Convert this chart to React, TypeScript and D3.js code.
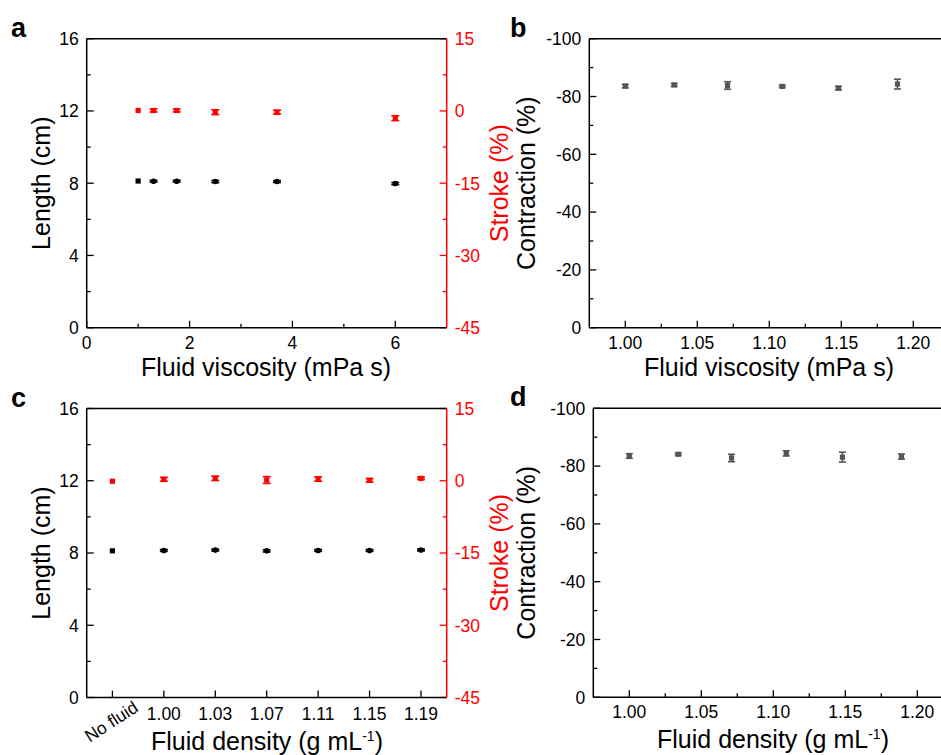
import * as d3 from 'd3';

// ── Data ───────────────────────────────────────────────────────────────
const viscosity = [1.0, 1.3, 1.75, 2.5, 3.7, 6.0];
const viscLength = [8.12, 8.11, 8.11, 8.09, 8.09, 7.98];
const viscLengthErr = [0, 0.05, 0.05, 0.06, 0.05, 0.06];
const viscStroke = [0.1, 0.1, 0.1, -0.25, -0.25, -1.5];
const viscStrokeErr = [0, 0.3, 0.3, 0.5, 0.4, 0.5];

const densityLabels = ['No fluid', '1.00', '1.03', '1.07', '1.11', '1.15', '1.19'];
const densityLength = [8.12, 8.14, 8.16, 8.12, 8.14, 8.14, 8.17];
const densityLengthErr = [0, 0.05, 0.05, 0.06, 0.05, 0.05, 0.05];
const densityStroke = [-0.1, 0.3, 0.5, 0.15, 0.35, 0.1, 0.5];
const densityStrokeErr = [0, 0.4, 0.45, 0.7, 0.45, 0.35, 0.25];

const contractX = [1.0, 1.034, 1.071, 1.109, 1.148, 1.189];
const contractVisc = [-83.6, -84.0, -83.8, -83.5, -82.9, -84.3];
const contractViscErr = [0.6, 0.5, 1.3, 0.4, 0.6, 1.7];
const contractDens = [-83.5, -84.1, -82.8, -84.4, -83.1, -83.3];
const contractDensErr = [0.8, 0.4, 1.3, 0.9, 1.7, 0.9];

const lengthTicks = [0, 4, 8, 12, 16];
const lengthMinor = [2, 6, 10, 14];
const strokeTicks = [-45, -30, -15, 0, 15];
const strokeMinor = [-37.5, -22.5, -7.5, 7.5];
const viscTicks = [0, 2, 4, 6];
const viscMinor = [1, 3, 5];
const contractTicks = [0, -20, -40, -60, -80, -100];
const contractMinor = [-10, -30, -50, -70, -90];
const densTicks = [1.0, 1.05, 1.1, 1.15, 1.2];
const densMinor = [1.025, 1.075, 1.125, 1.175, 1.225];

const FONT = 'Liberation Sans, Arial, sans-serif';
const RED = '#ff0000';
const GRAY = '#555555';
const TICK_FS = 17.5;
const TITLE_FS = 25;

const yTicksLeft = (y, major, minor, x0, fmt = d => String(d)) => (
  <g>
    {major.map(t => (
      <g key={'m' + t}>
        <line x1={x0} x2={x0 + 7} y1={y(t)} y2={y(t)} stroke="#000" strokeWidth={1.3} />
        <text x={x0 - 8} y={y(t)} dy="0.36em" textAnchor="end" fontSize={TICK_FS}>{fmt(t)}</text>
      </g>
    ))}
    {minor.map(t => (
      <line key={'n' + t} x1={x0} x2={x0 + 4} y1={y(t)} y2={y(t)} stroke="#000" strokeWidth={1.3} />
    ))}
  </g>
);

const yTicksRight = (y, major, minor, x0) => (
  <g fill={RED}>
    {major.map(t => (
      <g key={'m' + t}>
        <line x1={x0 - 7} x2={x0} y1={y(t)} y2={y(t)} stroke={RED} strokeWidth={1.3} />
        <text x={x0 + 8} y={y(t)} dy="0.36em" textAnchor="start" fontSize={TICK_FS}>{t}</text>
      </g>
    ))}
    {minor.map(t => (
      <line key={'n' + t} x1={x0 - 4} x2={x0} y1={y(t)} y2={y(t)} stroke={RED} strokeWidth={1.3} />
    ))}
  </g>
);

const xTicksBottom = (x, major, minor, y0, fmt = d => String(d)) => (
  <g>
    {major.map(t => (
      <g key={'m' + t}>
        <line x1={x(t)} x2={x(t)} y1={y0} y2={y0 - 7} stroke="#000" strokeWidth={1.3} />
        <text x={x(t)} y={y0 + 21} textAnchor="middle" fontSize={TICK_FS}>{fmt(t)}</text>
      </g>
    ))}
    {minor.map(t => (
      <line key={'n' + t} x1={x(t)} x2={x(t)} y1={y0} y2={y0 - 4} stroke="#000" strokeWidth={1.3} />
    ))}
  </g>
);

const errPoint = (key, cx, cy, yLo, yHi, color, cap, shape) => (
  <g key={key}>
    {yHi !== yLo && (
      <g stroke={color} strokeWidth={1.6}>
        <line x1={cx} x2={cx} y1={yLo} y2={yHi} />
        <line x1={cx - cap / 2} x2={cx + cap / 2} y1={yLo} y2={yLo} />
        <line x1={cx - cap / 2} x2={cx + cap / 2} y1={yHi} y2={yHi} />
      </g>
    )}
    {shape === 'circle' ? (
      <circle cx={cx} cy={cy} r={2.8} fill={color} />
    ) : (
      <rect x={cx - 2.6} y={cy - 2.6} width={5.2} height={5.2} fill={color} />
    )}
  </g>
);

// Length + Stroke panel (a, c)
const DualPanel = ({ top, letter, xScale, xs, length, lengthErr, stroke, strokeErr, xAxis, title }) => {
  const left = 86.7;
  const right = 446.7;
  const bottom = top + 289;
  const yL = d3.scaleLinear().domain([0, 16]).range([bottom, top]);
  const yS = d3.scaleLinear().domain([-45, 15]).range([bottom, top]);
  const midY = (top + bottom) / 2;
  return (
    <g>
      <text x={11} y={top - 2} fontSize={27} fontWeight="bold">{letter}</text>
      {xAxis(bottom)}
      {yTicksLeft(yL, lengthTicks, lengthMinor, left)}
      {yTicksRight(yS, strokeTicks, strokeMinor, right)}
      <line x1={left} x2={right} y1={top} y2={top} stroke="#000" strokeWidth={1.5} />
      <line x1={left} x2={right} y1={bottom} y2={bottom} stroke="#000" strokeWidth={1.5} />
      <line x1={left} x2={left} y1={top} y2={bottom} stroke="#000" strokeWidth={1.5} />
      <line x1={right} x2={right} y1={top} y2={bottom} stroke={RED} strokeWidth={1.5} />
      {xs.map((v, i) =>
        errPoint('s' + i, xScale(v), yS(stroke[i]), yS(stroke[i] - strokeErr[i]), yS(stroke[i] + strokeErr[i]), RED, 8, 'square')
      )}
      {xs.map((v, i) =>
        errPoint('l' + i, xScale(v), yL(length[i]), yL(length[i] - lengthErr[i]), yL(length[i] + lengthErr[i]), '#000', 8, i === 0 ? 'square' : 'circle')
      )}
      <text transform={`translate(50,${midY}) rotate(-90)`} textAnchor="middle" fontSize={TITLE_FS}>Length (cm)</text>
      <text transform={`translate(508,${midY}) rotate(-90)`} textAnchor="middle" fontSize={TITLE_FS} fill={RED}>Stroke (%)</text>
      {title(bottom)}
    </g>
  );
};

// Contraction panel (b, d)
const ContractPanel = ({ top, left, letter, values, errs, title }) => {
  const bottom = top + 289;
  const x = d3.scaleLinear().domain([0.975, 1.225]).range([left, left + 360]);
  const y = d3.scaleLinear().domain([0, -100]).range([bottom, top]);
  const midY = (top + bottom) / 2;
  return (
    <g>
      <text x={510} y={top - 2} fontSize={27} fontWeight="bold">{letter}</text>
      {xTicksBottom(x, densTicks, densMinor, bottom, d => d3.format('.2f')(d))}
      {yTicksLeft(y, contractTicks, contractMinor, left)}
      <line x1={left} x2={left + 360} y1={top} y2={top} stroke="#000" strokeWidth={1.5} />
      <line x1={left} x2={left + 360} y1={bottom} y2={bottom} stroke="#000" strokeWidth={1.5} />
      <line x1={left} x2={left} y1={top} y2={bottom} stroke="#000" strokeWidth={1.5} />
      {contractX.map((v, i) => errPoint('c' + i, x(v), y(values[i]), y(values[i] - errs[i]), y(values[i] + errs[i]), GRAY, 7, 'square'))}
      <text transform={`translate(535,${midY}) rotate(-90)`} textAnchor="middle" fontSize={TITLE_FS}>Contraction (%)</text>
      {title}
    </g>
  );
};

const DensityTitle = ({ x, y }) => (
  <text x={x} y={y} textAnchor="middle" fontSize={TITLE_FS}>
    Fluid density (g mL<tspan dy={-9} fontSize={14}>-1</tspan><tspan dy={9}>)</tspan>
  </text>
);

export default function App() {
  const xVisc = d3.scaleLinear().domain([0, 7]).range([86.7, 446.7]);
  const xDens = d3.scaleLinear().domain([0, 7]).range([86.7, 446.7]);
  const densPos = densityLabels.map((_, i) => i + 0.5);

  return (
    <svg width={941} height={755} style={{ position: 'absolute', left: 0, top: 0, background: '#fff' }} fontFamily={FONT}>
      <DualPanel
        top={38.7}
        letter="a"
        xScale={xVisc}
        xs={viscosity}
        length={viscLength}
        lengthErr={viscLengthErr}
        stroke={viscStroke}
        strokeErr={viscStrokeErr}
        xAxis={b => xTicksBottom(xVisc, viscTicks, viscMinor, b)}
        title={b => (
          <text x={266} y={b + 48} textAnchor="middle" fontSize={TITLE_FS}>Fluid viscosity (mPa s)</text>
        )}
      />
      <DualPanel
        top={408.5}
        letter="c"
        xScale={xDens}
        xs={densPos}
        length={densityLength}
        lengthErr={densityLengthErr}
        stroke={densityStroke}
        strokeErr={densityStrokeErr}
        xAxis={b => (
          <g>
            {densPos.map((p, i) => (
              <g key={i}>
                <line x1={xDens(p)} x2={xDens(p)} y1={b} y2={b - 7} stroke="#000" strokeWidth={1.3} />
                {i === 0 ? (
                  <text transform={`translate(${xDens(p) + 27},${b + 13}) rotate(-33)`} textAnchor="end" fontSize={TICK_FS}>
                    {densityLabels[i]}
                  </text>
                ) : (
                  <text x={xDens(p)} y={b + 22} textAnchor="middle" fontSize={TICK_FS}>{densityLabels[i]}</text>
                )}
              </g>
            ))}
          </g>
        )}
        title={b => <DensityTitle x={267} y={b + 52} />}
      />
      <ContractPanel
        top={38.7}
        left={589.3}
        letter="b"
        values={contractVisc}
        errs={contractViscErr}
        title={<text x={769} y={376} textAnchor="middle" fontSize={TITLE_FS}>Fluid viscosity (mPa s)</text>}
      />
      <ContractPanel
        top={408.3}
        left={593.3}
        letter="d"
        values={contractDens}
        errs={contractDensErr}
        title={<DensityTitle x={773} y={748} />}
      />
    </svg>
  );
}
